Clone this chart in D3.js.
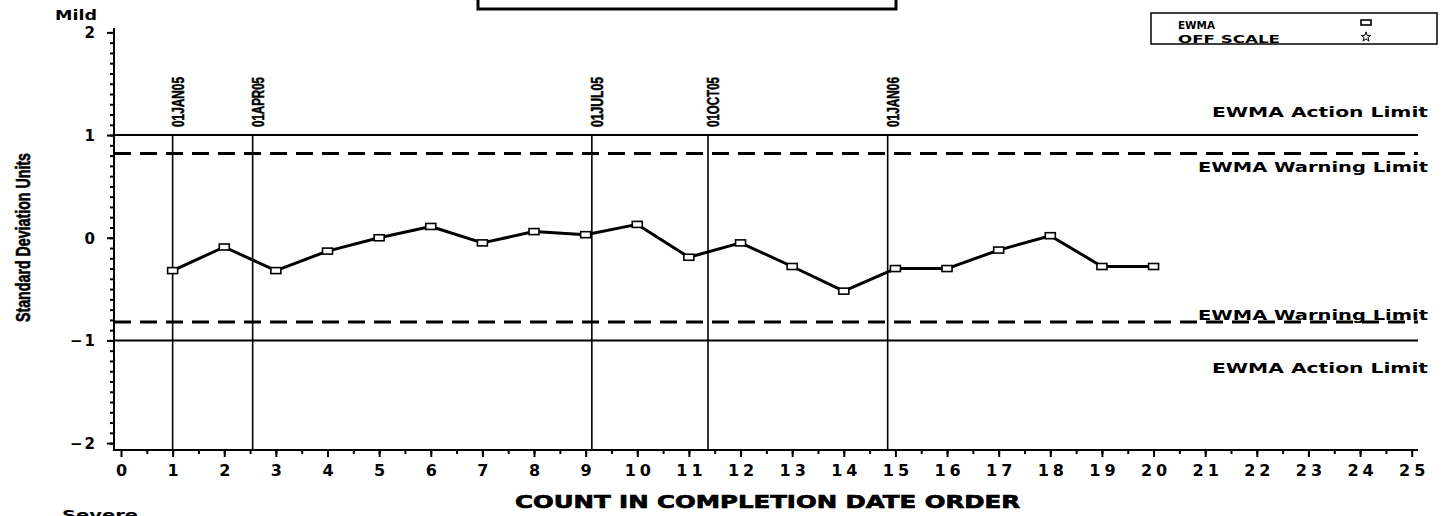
<!DOCTYPE html>
<html>
<head>
<meta charset="utf-8">
<script src="https://cdn.jsdelivr.net/npm/d3@7"></script>
<style>
  body { margin: 0; background: #fff; }
  svg { display: block; }
  text { fill: #000; }
  .sas { font-family: "DejaVu Sans", Verdana, sans-serif; font-weight: bold; }
  .narrow { font-family: "Liberation Sans Narrow", "Arial Narrow", "Liberation Sans", sans-serif; font-weight: bold; }
</style>
</head>
<body>
<div id="chart"></div>
<script>
// chart data
var counts = [1, 2, 3, 4, 5, 6, 7, 8, 9, 10, 11, 12, 13, 14, 15, 16, 17, 18, 19, 20];
var ewma = [-0.32, -0.09, -0.32, -0.13, 0.0, 0.11, -0.05, 0.06, 0.03, 0.13,
            -0.19, -0.05, -0.28, -0.52, -0.30, -0.30, -0.12, 0.02, -0.28, -0.28];
var dateLabels = ["01JAN05", "01APR05", "01JUL05", "01OCT05", "01JAN06"];
var datePositions = [1, 2.55, 9.12, 11.37, 14.85];
var actionLimit = 1;
var warningLimit = 0.82;
var xTicks = d3.range(0, 26);
var yTicks = [-2, -1, 0, 1, 2];
var legendLabels = ["EWMA", "OFF SCALE"];

var svgwidth = 1448;
var svgheight = 516;

var svg = d3.select("#chart").append("svg")
  .attr("width", svgwidth)
  .attr("height", svgheight);

// scales
var xscale = d3.scaleLinear().domain([0, 25]).range([121, 1411.7]);
var yscale = d3.scaleLinear().domain([-2, 2]).range([443.1, 32.4]);

var axisX = 114;   // y axis position
var axisY = 450;   // x axis position
var rightEnd = 1418;

// empty title box at the top
svg.append("rect")
  .attr("x", 478).attr("y", -10)
  .attr("width", 418).attr("height", 19)
  .attr("fill", "none").attr("stroke", "#000").attr("stroke-width", 3);

// legend
var legend = svg.append("g");
legend.append("rect")
  .attr("x", 1151).attr("y", 13).attr("width", 286).attr("height", 31)
  .attr("fill", "none").attr("stroke", "#000").attr("stroke-width", 1.5);
legend.selectAll("text.leg").data(legendLabels).enter()
  .append("text")
  .attr("class", "sas leg")
  .attr("x", 1178)
  .attr("y", (d, i) => 29 + i * 13.5)
  .attr("font-size", "10.5px")
  .attr("textLength", (d, i) => i == 0 ? 37 : 102)
  .attr("lengthAdjust", "spacingAndGlyphs")
  .text(d => d);
legend.append("rect")
  .attr("x", 1361).attr("y", 20).attr("width", 10).attr("height", 5)
  .attr("fill", "#fff").attr("stroke", "#000").attr("stroke-width", 1.6);
legend.append("path")
  .attr("d", d3.symbol(d3.symbolStar, 30)())
  .attr("transform", "translate(1366,37)")
  .attr("fill", "#fff").attr("stroke", "#000").attr("stroke-width", 1);

// Mild / Severe
svg.append("text").attr("class", "sas")
  .attr("x", 55).attr("y", 20).attr("font-size", "13.5px")
  .attr("textLength", 42).attr("lengthAdjust", "spacingAndGlyphs")
  .text("Mild");
svg.append("text").attr("class", "sas")
  .attr("x", 62).attr("y", 520).attr("font-size", "13.5px")
  .attr("textLength", 76).attr("lengthAdjust", "spacingAndGlyphs")
  .text("Severe");

// limit lines
var limits = [
  {v: actionLimit, dash: null, w: 2},
  {v: warningLimit, dash: "17,9", w: 3},
  {v: -warningLimit, dash: "17,9", w: 3},
  {v: -actionLimit, dash: null, w: 2}
];
svg.selectAll("line.limit").data(limits).enter()
  .append("line")
  .attr("class", "limit")
  .attr("x1", axisX).attr("x2", rightEnd)
  .attr("y1", d => yscale(d.v)).attr("y2", d => yscale(d.v))
  .attr("stroke", "#000")
  .attr("stroke-width", d => d.w)
  .attr("stroke-dasharray", d => d.dash);

// limit labels
var limitLabels = [
  {t: "EWMA Action Limit", y: yscale(actionLimit) - 18, len: 216},
  {t: "EWMA Warning Limit", y: yscale(warningLimit) + 18, len: 230},
  {t: "EWMA Warning Limit", y: yscale(-warningLimit) - 2, len: 230},
  {t: "EWMA Action Limit", y: yscale(-actionLimit) + 33, len: 216}
];
svg.selectAll("text.limlab").data(limitLabels).enter()
  .append("text")
  .attr("class", "sas limlab")
  .attr("x", d => 1428 - d.len)
  .attr("y", d => d.y)
  .attr("font-size", "14.5px")
  .attr("textLength", d => d.len)
  .attr("lengthAdjust", "spacingAndGlyphs")
  .text(d => d.t);

// date reference lines
svg.selectAll("line.ref").data(datePositions).enter()
  .append("line")
  .attr("class", "ref")
  .attr("x1", d => xscale(d)).attr("x2", d => xscale(d))
  .attr("y1", yscale(actionLimit)).attr("y2", axisY)
  .attr("stroke", "#000").attr("stroke-width", 1.6);

svg.selectAll("text.date").data(dateLabels).enter()
  .append("text")
  .attr("class", "narrow date")
  .attr("transform", (d, i) => `translate(${xscale(datePositions[i]) + 11}, 127) rotate(-90)`)
  .attr("font-size", "16px")
  .attr("stroke", "#000").attr("stroke-width", 0.5)
  .attr("textLength", 50)
  .attr("lengthAdjust", "spacingAndGlyphs")
  .text(d => d);

// EWMA series
var line = d3.line()
  .x((d, i) => xscale(counts[i]))
  .y(d => yscale(d));

svg.append("path")
  .datum(ewma)
  .attr("d", line)
  .attr("fill", "none")
  .attr("stroke", "#000")
  .attr("stroke-width", 3)
  .attr("stroke-linejoin", "round");

svg.selectAll("rect.pt").data(ewma).enter()
  .append("rect")
  .attr("class", "pt")
  .attr("x", (d, i) => xscale(counts[i]) - 5)
  .attr("y", d => yscale(d) - 3)
  .attr("width", 10).attr("height", 6)
  .attr("fill", "#fff")
  .attr("stroke", "#000")
  .attr("stroke-width", 1.6);

// axes
svg.append("line")
  .attr("x1", axisX).attr("x2", axisX).attr("y1", 28).attr("y2", axisY + 1)
  .attr("stroke", "#000").attr("stroke-width", 2);
svg.append("line")
  .attr("x1", axisX - 1).attr("x2", rightEnd).attr("y1", axisY).attr("y2", axisY)
  .attr("stroke", "#000").attr("stroke-width", 2);

// y axis ticks
var yMinor = d3.axisLeft(yscale)
  .tickValues(d3.range(-20, 21).map(d => d / 10))
  .tickSize(4).tickSizeOuter(0).tickFormat("");
var gyMinor = svg.append("g").attr("transform", `translate(${axisX},0)`).call(yMinor);

var yaxis = d3.axisLeft(yscale)
  .tickValues(yTicks)
  .tickSize(7).tickSizeOuter(0).tickPadding(10)
  .tickFormat(d => d < 0 ? "\u2212" + Math.abs(d) : d);
var gy = svg.append("g").attr("transform", `translate(${axisX},0)`).call(yaxis);

// x axis ticks
var xMinor = d3.axisBottom(xscale)
  .tickValues(d3.range(0, 50).map(d => d / 2 + 0.5).filter(d => d < 25))
  .tickSize(4).tickSizeOuter(0).tickFormat("");
var gxMinor = svg.append("g").attr("transform", `translate(0,${axisY})`).call(xMinor);

var xaxis = d3.axisBottom(xscale)
  .tickValues(xTicks)
  .tickSize(7).tickSizeOuter(0).tickPadding(8)
  .tickFormat(d3.format("d"));
var gx = svg.append("g").attr("transform", `translate(0,${axisY})`).call(xaxis);

[gyMinor, gy, gxMinor, gx].forEach(function(g) {
  g.select(".domain").remove();
  g.selectAll(".tick line").attr("stroke", "#000").attr("stroke-width", 2);
});
gy.selectAll(".tick text")
  .attr("class", "sas")
  .attr("font-size", "15px")
  .attr("letter-spacing", "2px")
  .attr("dy", "0.35em")
  .attr("fill", "#000");
gx.selectAll(".tick text")
  .attr("class", "sas")
  .attr("font-size", "16px")
  .attr("letter-spacing", "4px")
  .attr("dx", "2px")
  .attr("fill", "#000");

// axis titles
svg.append("text")
  .attr("class", "sas")
  .attr("x", 515).attr("y", 508)
  .attr("font-size", "18px")
  .attr("font-weight", 900)
  .attr("stroke", "#000").attr("stroke-width", 0.7)
  .attr("textLength", 505)
  .attr("lengthAdjust", "spacingAndGlyphs")
  .text("COUNT IN COMPLETION DATE ORDER");

svg.append("text")
  .attr("class", "narrow")
  .attr("transform", "translate(30, 322) rotate(-90)")
  .attr("font-size", "21px")
  .attr("stroke", "#000").attr("stroke-width", 0.6)
  .attr("textLength", 169)
  .attr("lengthAdjust", "spacingAndGlyphs")
  .text("Standard Deviation Units");
</script>
</body>
</html>
